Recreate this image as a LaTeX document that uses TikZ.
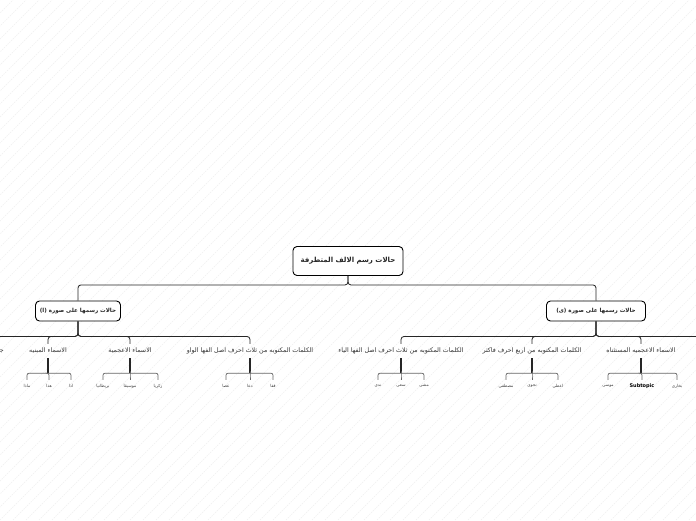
\documentclass[tikz,border=0pt]{standalone}
\usepackage{fontspec}
\newfontfamily\arfont[Script=Arabic]{DejaVu Sans}
\newfontfamily\latfont{DejaVu Sans}
\TeXXeTstate=1
\newcommand{\artxt}[1]{{\arfont\beginR #1\endR}}
\begin{document}
\begin{tikzpicture}[x=1pt,y=-1pt,
  rootbox/.style={draw=black, line width=0.9pt, rounded corners=4pt, fill=white, text=black!85,
     minimum width=110, minimum height=29, inner sep=0pt, font=\bfseries\fontsize{7}{9}\selectfont},
  mainbox/.style={draw=black, line width=0.9pt, rounded corners=4pt, fill=white, text=black!85,
     minimum height=20, inner sep=0pt, font=\bfseries\fontsize{5.6}{7}\selectfont},
  subnode/.style={inner sep=0pt, minimum height=14, text=black!80, font=\fontsize{6.3}{7.5}\selectfont},
  leafnode/.style={inner sep=0pt, minimum height=12, text=black!75, font=\fontsize{4.2}{5}\selectfont},
  conn/.style={draw=black!85, line width=0.8pt, rounded corners=3pt},
  leafconn/.style={draw=black!60, line width=0.7pt, rounded corners=2pt},
  stem/.style={draw=black!85, line width=1.6pt},
  hatch/.style={draw=black!6, line width=0.5pt, dash pattern=on 1.5pt off 1pt}
]
\useasboundingbox (0,0) rectangle (696,520);
\fill[white] (0,0) rectangle (696,520);
\foreach \i in {-520,-507,...,700} \draw[hatch] (\i,520) -- ++(520,-520);

% root and main branches
\node[rootbox] (r) at (348,261) {\artxt{حالات رسم الالف المتطرفة}};
\node[mainbox, minimum width=85] (a) at (78,311) {\artxt{حالات رسمها على صورة (ا)}};
\node[mainbox, minimum width=99] (b) at (596,311) {\artxt{حالات رسمها على صورة (ى)}};
\draw[conn] (r.south) -- ++(0,9) -| (a.north);
\draw[conn] (r.south) -- ++(0,9) -| (b.north);

% second level, left
\node[subnode] (a1) at (250,351) {\artxt{الكلمات المكتوبه من ثلاث احرف اصل الفها الواو}};
\node[subnode] (a2) at (130,351) {\artxt{الاسماء الاعجمية}};
\node[subnode] (a3) at (48,351) {\artxt{الاسماء المبنيه}};
\node[subnode, anchor=east] (a4) at (4,351) {\artxt{جميع الحروف}};
\foreach \n in {a1,a2,a3,a4} \draw[conn] (a.south) -- ++(0,15) -| (\n.north);

% second level, right
\node[subnode] (b1) at (401,351) {\artxt{الكلمات المكتوبه من ثلاث احرف اصل الفها الياء}};
\node[subnode] (b2) at (532,351) {\artxt{الكلمات المكتوبه من اربع احرف فاكثر}};
\node[subnode] (b3) at (641,351) {\artxt{الاسماء الاعجميه المستثناه}};
\coordinate (b4) at (740,344);
\foreach \n in {b1,b2,b3,b4} \draw[conn] (b.south) -- ++(0,15) -| (\n.north);

% leaves
\node[leafnode] (a11) at (226,386) {\artxt{عصا}};
\node[leafnode] (a12) at (250,386) {\artxt{دعا}};
\node[leafnode] (a13) at (273,386) {\artxt{قفا}};
\node[leafnode] (a21) at (103,386) {\artxt{بريطانيا}};
\node[leafnode] (a22) at (130,386) {\artxt{موسيقا}};
\node[leafnode] (a23) at (158,386) {\artxt{زكريا}};
\node[leafnode] (a31) at (27,386) {\artxt{ماذا}};
\node[leafnode] (a32) at (49,386) {\artxt{هذا}};
\node[leafnode] (a33) at (71,386) {\artxt{اذا}};
\node[leafnode] (b11) at (378,386) {\artxt{ندى}};
\node[leafnode] (b12) at (401,386) {\artxt{سعى}};
\node[leafnode] (b13) at (424,386) {\artxt{مشى}};
\node[leafnode] (b21) at (506,386) {\artxt{مصطفى}};
\node[leafnode] (b22) at (532,386) {\artxt{نجوى}};
\node[leafnode] (b23) at (558,386) {\artxt{اعطى}};
\node[leafnode] (b31) at (608,386) {\artxt{موسى}};
\node[leafnode, text=black, font=\latfont\bfseries\fontsize{5}{6}\selectfont] (b32) at (642,386) {Subtopic};
\node[leafnode] (b33) at (677,386) {\artxt{بخارى}};

\foreach \p in {a1,a2,a3,b1,b2,b3}{
  \draw[stem] (\p.south) -- ++(0,15) coordinate (\p j);
  \foreach \k in {1,2,3} \draw[leafconn] (\p j) -| (\p\k.north);
}
\end{tikzpicture}
\end{document}
